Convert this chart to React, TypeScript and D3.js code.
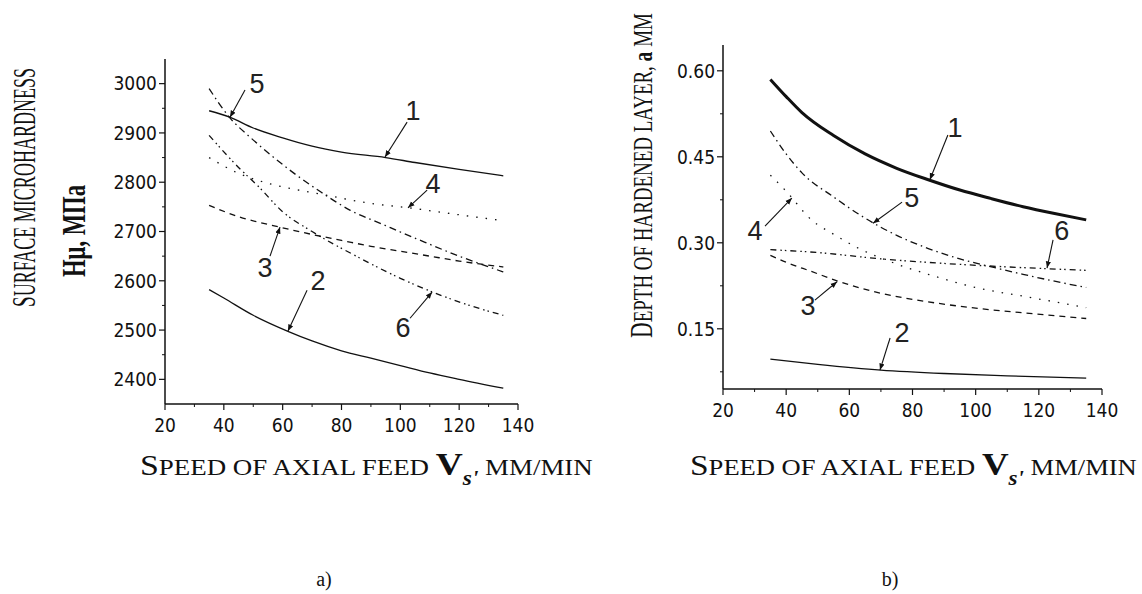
import React, { useLayoutEffect, useRef, useState } from "react";
import * as d3 from "d3";

// ---- panel a) surface microhardness, MPa vs feed speed, mm/min ----
const hardness1 = [[35, 2945], [42, 2932], [50, 2910], [60, 2890], [70, 2873], [80, 2861], [95, 2850], [105, 2840], [120, 2826], [135, 2813]];
const hardness2 = [[35, 2582], [40, 2565], [50, 2530], [62, 2497], [70, 2478], [80, 2458], [90, 2443], [100, 2428], [110, 2413], [120, 2400], [135, 2382]];
const hardness3 = [[35, 2753], [45, 2730], [59, 2709], [70, 2694], [80, 2682], [90, 2670], [100, 2660], [110, 2650], [120, 2640], [135, 2628]];
const hardness4 = [[35, 2850], [45, 2818], [52, 2803], [62, 2788], [72, 2777], [90, 2757], [103, 2748], [115, 2738], [135, 2722]];
const hardness5 = [[35, 2990], [42, 2931], [49, 2891], [56, 2855], [63, 2822], [73, 2780], [83, 2743], [95, 2712], [100, 2699], [106, 2684], [120, 2650], [135, 2618]];
const hardness6 = [[35, 2895], [45, 2830], [52, 2790], [60, 2740], [70, 2700], [85, 2650], [100, 2605], [111, 2577], [122, 2553], [135, 2530]];

// ---- panel b) depth of hardened layer, mm ----
const depth1 = [[35, 0.585], [40, 0.555], [45, 0.527], [55, 0.487], [65, 0.455], [75, 0.43], [85, 0.41], [95, 0.392], [105, 0.377], [115, 0.363], [125, 0.351], [135, 0.34]];
const depth2 = [[35, 0.097], [50, 0.088], [70, 0.078], [90, 0.072], [110, 0.068], [135, 0.064]];
const depth3 = [[35, 0.278], [40, 0.266], [48, 0.25], [57, 0.232], [70, 0.212], [85, 0.197], [100, 0.186], [117, 0.177], [135, 0.168]];
const depth4 = [[35, 0.418], [40, 0.39], [48, 0.34], [55, 0.315], [62, 0.293], [75, 0.263], [88, 0.24], [100, 0.222], [117, 0.205], [135, 0.187]];
const depth5 = [[35, 0.495], [40, 0.455], [45, 0.422], [55, 0.38], [65, 0.343], [75, 0.313], [85, 0.29], [95, 0.272], [105, 0.258], [115, 0.245], [125, 0.233], [135, 0.222]];
const depth6 = [[35, 0.288], [50, 0.283], [70, 0.272], [90, 0.264], [110, 0.258], [135, 0.252]];

// tick labels
const speedTicks = [20, 40, 60, 80, 100, 120, 140];
const speedMinor = [30, 50, 70, 90, 110, 130];
const hardnessTicks = [2400, 2500, 2600, 2700, 2800, 2900, 3000];
const hardnessMinor = [2450, 2550, 2650, 2750, 2850, 2950];
const depthTicks = [0.15, 0.3, 0.45, 0.6];
const depthMinor = [0.075, 0.225, 0.375, 0.525];

// curve number callouts: [label, labelX, labelY, tailX, tailY, headX, headY] in data units
const calloutsA = [
  ["5", 51.3, 3001, 47.2, 2987, 42.1, 2932],
  ["1", 104.3, 2946, 102.3, 2922, 94.8, 2851],
  ["4", 111.1, 2798, 109.1, 2784, 102.6, 2748],
  ["3", 54, 2628, 55.7, 2650, 59.1, 2709],
  ["2", 72, 2602, 68.3, 2581, 61.8, 2498],
  ["6", 100.9, 2506, 103.3, 2524, 110.8, 2577],
];
const calloutsB = [
  ["1", 93.5, 0.502, 91.2, 0.488, 85.5, 0.41],
  ["5", 79.8, 0.38, 76.7, 0.371, 67.5, 0.334],
  ["6", 127.3, 0.322, 124.5, 0.305, 122.6, 0.256],
  ["4", 30.1, 0.322, 33.3, 0.329, 41.8, 0.378],
  ["3", 46.9, 0.191, 49.1, 0.2, 56.1, 0.232],
  ["2", 76.7, 0.144, 72.9, 0.134, 69.7, 0.078],
];

const dashes = { 1: null, 2: null, 3: "6 5", 4: "1.5 8", 5: "7 4 1.5 4", 6: "6 4 1.5 3 1.5 4" };

const tickFont = "'Liberation Sans Narrow', 'Arial Narrow', 'DejaVu Sans Condensed', sans-serif";
const serif = "'Liberation Serif', 'Times New Roman', serif";
const ink = "#111";

const xA = d3.scaleLinear().domain([20, 140]).range([165, 518]);
const yA = d3.scaleLinear().domain([2350, 3050]).range([404, 59]);
const xB = d3.scaleLinear().domain([20, 140]).range([723, 1102]);
const yB = d3.scaleLinear().domain([0.045, 0.645]).range([389, 45]);

// text squeezed/stretched along its baseline to a given length
function FitText({ x, y, len, angle = 0, children, ...rest }) {
  const ref = useRef(null);
  const [k, setK] = useState(1);
  useLayoutEffect(() => {
    const w = ref.current.getComputedTextLength();
    if (w > 0) setK(len / w);
  }, [len]);
  return (
    <text ref={ref} transform={`translate(${x},${y}) rotate(${angle}) scale(${k},1)`} fill={ink} {...rest}>
      {children}
    </text>
  );
}

function Axes({ x, y, yTicks, yMinor, fmt }) {
  const [x0, x1] = x.range();
  const [yb, yt] = y.range();
  return (
    <g stroke={ink} fill={ink}>
      <line x1={x0} x2={x0} y1={yt} y2={yb} strokeWidth={1.5} />
      <line x1={x0} x2={x1} y1={yb} y2={yb} strokeWidth={1.5} />
      {yTicks.map((t) => (
        <g key={"y" + t}>
          <line x1={x0 - 6} x2={x0} y1={y(t)} y2={y(t)} strokeWidth={1.2} />
          <text x={x0 - 8} y={y(t)} dy="0.36em" textAnchor="end" stroke="none" fontFamily={tickFont} fontSize={19}>
            {fmt(t)}
          </text>
        </g>
      ))}
      {yMinor.map((t) => (
        <line key={"ym" + t} x1={x0 - 3} x2={x0} y1={y(t)} y2={y(t)} strokeWidth={1} />
      ))}
      {speedTicks.map((t) => (
        <g key={"x" + t}>
          <line x1={x(t)} x2={x(t)} y1={yb} y2={yb + 6} strokeWidth={1.2} />
          <text x={x(t)} y={yb + 28} textAnchor="middle" stroke="none" fontFamily={tickFont} fontSize={19}>
            {t}
          </text>
        </g>
      ))}
      {speedMinor.map((t) => (
        <line key={"xm" + t} x1={x(t)} x2={x(t)} y1={yb} y2={yb + 3} strokeWidth={1} />
      ))}
    </g>
  );
}

function Curves({ x, y, series, thickFirst }) {
  const line = d3
    .line()
    .x((d) => x(d[0]))
    .y((d) => y(d[1]))
    .curve(d3.curveMonotoneX);
  return (
    <g fill="none" stroke={ink}>
      {series.map((s, i) => (
        <path
          key={i}
          d={line(s)}
          strokeWidth={thickFirst && i === 0 ? 3 : 1.3}
          strokeDasharray={dashes[i + 1] || undefined}
        />
      ))}
    </g>
  );
}

function Callouts({ x, y, items }) {
  return (
    <g>
      {items.map(([lab, lx, ly, tx, ty, hx, hy]) => (
        <g key={lab}>
          <line x1={x(tx)} y1={y(ty)} x2={x(hx)} y2={y(hy)} stroke={ink} strokeWidth={1.1} markerEnd="url(#arr)" />
          <text x={x(lx)} y={y(ly)} dy="0.36em" textAnchor="middle" fontFamily="'Liberation Sans', Arial, sans-serif" fontSize={27} fill="#222">
            {lab}
          </text>
        </g>
      ))}
    </g>
  );
}

function XTitle({ x, len }) {
  return (
    <FitText x={x} y={475} len={len} fontFamily={serif}>
      <tspan fontSize={29}>S</tspan>
      <tspan fontSize={23}>PEED OF AXIAL FEED </tspan>
      <tspan fontSize={32} fontWeight="bold">V</tspan>
      <tspan fontSize={20} fontWeight="bold" fontStyle="italic" dy={10}>s'</tspan>
      <tspan fontSize={23} dy={-10}>{"  MM/MIN"}</tspan>
    </FitText>
  );
}

export default function App() {
  return (
    <div style={{ position: "absolute", left: 0, top: 0 }}>
      <svg width={1142} height={594} style={{ display: "block", background: "#fff" }}>
        <defs>
          <marker id="arr" viewBox="0 0 10 10" refX={10} refY={5} markerWidth={6} markerHeight={6} orient="auto">
            <path d="M0,1L10,5L0,9z" fill={ink} />
          </marker>
        </defs>

        {/* panel a */}
        <Axes x={xA} y={yA} yTicks={hardnessTicks} yMinor={hardnessMinor} fmt={(t) => String(t)} />
        <Curves x={xA} y={yA} series={[hardness1, hardness2, hardness3, hardness4, hardness5, hardness6]} />
        <Callouts x={xA} y={yA} items={calloutsA} />
        <FitText x={35} y={307} angle={-90} len={239} fontFamily={serif}>
          <tspan fontSize={33}>S</tspan>
          <tspan fontSize={31}>URFACE MICROHARDNESS</tspan>
        </FitText>
        <FitText x={85} y={277} angle={-90} len={92} fontFamily={serif} fontWeight="bold" fontSize={34}>
          Hμ, MПa
        </FitText>
        <XTitle x={140} len={453} />
        <text x={324} y={586} textAnchor="middle" fontFamily={serif} fontSize={20} fill={ink}>a)</text>

        {/* panel b */}
        <Axes x={xB} y={yB} yTicks={depthTicks} yMinor={depthMinor} fmt={(t) => t.toFixed(2)} />
        <Curves x={xB} y={yB} series={[depth1, depth2, depth3, depth4, depth5, depth6]} thickFirst />
        <Callouts x={xB} y={yB} items={calloutsB} />
        <FitText x={652} y={338} angle={-90} len={325} fontFamily={serif}>
          <tspan fontSize={31}>D</tspan>
          <tspan fontSize={27}>EPTH OF HARDENED LAYER, </tspan>
          <tspan fontSize={28} fontWeight="bold">a</tspan>
          <tspan fontSize={27}> MM</tspan>
        </FitText>
        <XTitle x={690} len={447} />
        <text x={890} y={586} textAnchor="middle" fontFamily={serif} fontSize={20} fill={ink}>b)</text>
      </svg>
    </div>
  );
}
